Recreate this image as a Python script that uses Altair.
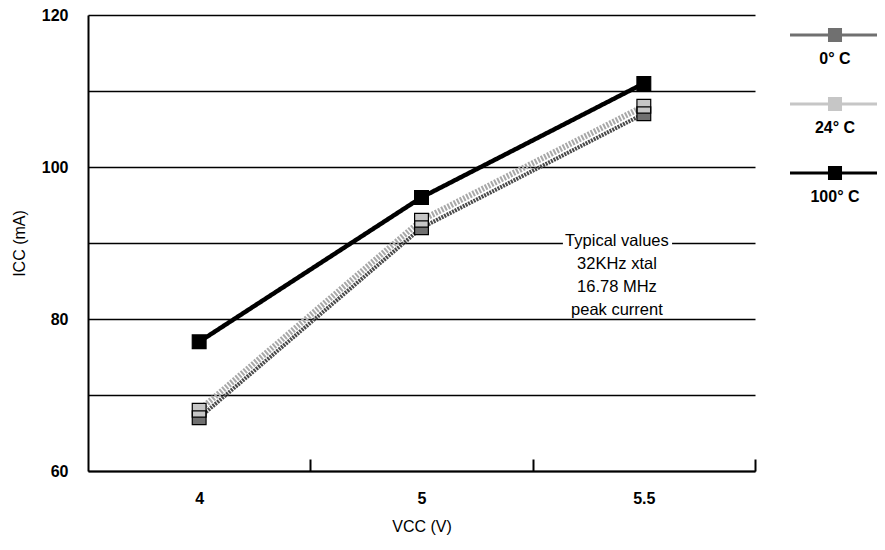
import altair as alt
import pandas as pd

# ---- data ----
voltages = ["4", "5", "5.5"]
temps = ["0° C", "24° C", "100° C"]
icc_0c = [67, 92, 107]
icc_24c = [68, 93, 108]
icc_100c = [77, 96, 111]
y_ticks = [60, 70, 80, 90, 100, 110, 120]
note_lines = ["Typical values", "32KHz xtal", "16.78 MHz", "peak current"]

series = {temps[0]: icc_0c, temps[1]: icc_24c, temps[2]: icc_100c}
rows = []
for t, vals in series.items():
    for i, (v, c) in enumerate(zip(voltages, vals)):
        rows.append({"idx": i, "Vcc": v, "Temp": t, "Icc": c})
df = pd.DataFrame(rows)

# ---- styling ----
FONT = "Liberation Sans"
line_colors = ["#4a4a4a", "#a8a8a8", "#000000"]
fill_colors = ["#707070", "#c6c6c6", "#000000"]
dashes = [[2, 1], [2, 1.5], [1, 0]]
widths = [4, 6, 4.5]
H = 456

x_scale = alt.Scale(domain=[-0.5, len(voltages) - 0.5], nice=False, zero=False)
y_scale = alt.Scale(domain=[60, 120], nice=False, zero=False)

label_expr = "[" + ",".join(f"'{v}'" for v in voltages) + "][datum.value]"
band_edges = [i + 0.5 for i in range(len(voltages))]

x_axis = alt.Axis(
    values=list(range(len(voltages))), labelExpr=label_expr, title="VCC (V)",
    grid=False, ticks=False, domain=True, domainColor="black", domainWidth=2,
    labelPadding=19, labelFontSize=16, labelFontWeight="bold", labelFont=FONT,
    labelColor="black", titleFont=FONT, titleFontSize=16, titleFontWeight="normal",
    titlePadding=12, titleColor="black",
)
y_axis = alt.Axis(
    values=y_ticks, labelExpr="datum.value % 20 == 0 ? datum.label : ''",
    title="ICC (mA)", grid=True, gridColor="black", gridWidth=1.6, gridOpacity=1,
    ticks=False, domain=True, domainColor="black", domainWidth=2,
    labelPadding=20, labelFontSize=16, labelFontWeight="bold", labelFont=FONT,
    labelColor="black", titleFont=FONT, titleFontSize=16, titleFontWeight="normal",
    titlePadding=14, titleColor="black",
)

# custom legend glyph: horizontal bar with a square, sitting above its label
SYMBOL_PATH = ("M0,-0.39H2V-0.32H0Z "
               "M0.844,-0.511H1.156V-0.199H0.844Z")

legend = alt.Legend(
    title=None, orient="none", legendX=657, legendY=-9, direction="vertical",
    symbolType=SYMBOL_PATH, symbolSize=8100, symbolStrokeWidth=0, symbolOpacity=1,
    labelFont=FONT, labelFontSize=16, labelFontWeight="bold", labelColor="black",
    labelAlign="center", labelBaseline="top", labelOffset=0, rowPadding=8,
)

Y = alt.Y("Icc:Q", scale=y_scale, axis=y_axis)

line_layers = []
for k, t in enumerate(temps):
    line_layers.append(
        alt.Chart(df).transform_filter(alt.datum.Temp == t).mark_line(
            strokeCap="butt", strokeJoin="miter", stroke=line_colors[k],
            strokeDash=dashes[k], strokeWidth=widths[k],
        ).encode(
            x=alt.X("idx:Q", scale=x_scale, axis=x_axis if k == 0 else None),
            y=Y,
        )
    )

squares = alt.Chart(df).mark_square(size=190, opacity=1, strokeWidth=0).encode(
    x=alt.X("idx:Q", scale=x_scale, axis=None),
    y=Y,
    fill=alt.Fill("Temp:N", scale=alt.Scale(domain=temps, range=fill_colors), legend=legend),
)

outlines = alt.Chart(df).mark_square(size=190, filled=False, opacity=1,
                                     stroke="black", strokeWidth=1.2).encode(
    x=alt.X("idx:Q", scale=x_scale, axis=None),
    y=Y,
)

# annotation; its white box knocks out the gridline behind it
box_df = pd.DataFrame({"x": [1.636], "x2": [2.127], "y": [85.0], "y2": [95.3]})
box = alt.Chart(box_df).mark_rect(fill="white").encode(
    x=alt.X("x:Q", scale=x_scale, axis=None), x2="x2:Q",
    y=alt.Y("y:Q", scale=y_scale, axis=y_axis), y2="y2:Q",
)
note_df = pd.DataFrame({"x": [1.879], "y": [90.2], "text": [note_lines]})
note = alt.Chart(note_df).mark_text(
    font=FONT, fontSize=16.5, lineHeight=23, align="center", baseline="middle", color="black"
).encode(
    x=alt.X("x:Q", scale=x_scale, axis=None),
    y=alt.Y("y:Q", scale=y_scale, axis=y_axis),
    text="text",
)

# inward-pointing ticks at the category boundaries (top axis moved onto the bottom edge)
tick_layer = alt.Chart(df).mark_point(opacity=0).encode(
    x=alt.X("idx:Q", scale=x_scale, axis=alt.Axis(
        orient="top", offset=-H, values=band_edges, labels=False, domain=False,
        grid=False, ticks=True, tickSize=12, tickWidth=2, tickColor="black", title=None)),
    y=Y,
)

chart = alt.layer(*line_layers, box, note, squares, outlines, tick_layer).resolve_axis(
    x="independent"
).properties(
    width=667, height=H,
    autosize=alt.AutoSizeParams(type="none"),
    padding={"left": 80, "top": 7, "right": 122, "bottom": 71},
).configure_view(stroke=None)

chart.save("out.html", embed_options={"renderer": "svg", "actions": False})
